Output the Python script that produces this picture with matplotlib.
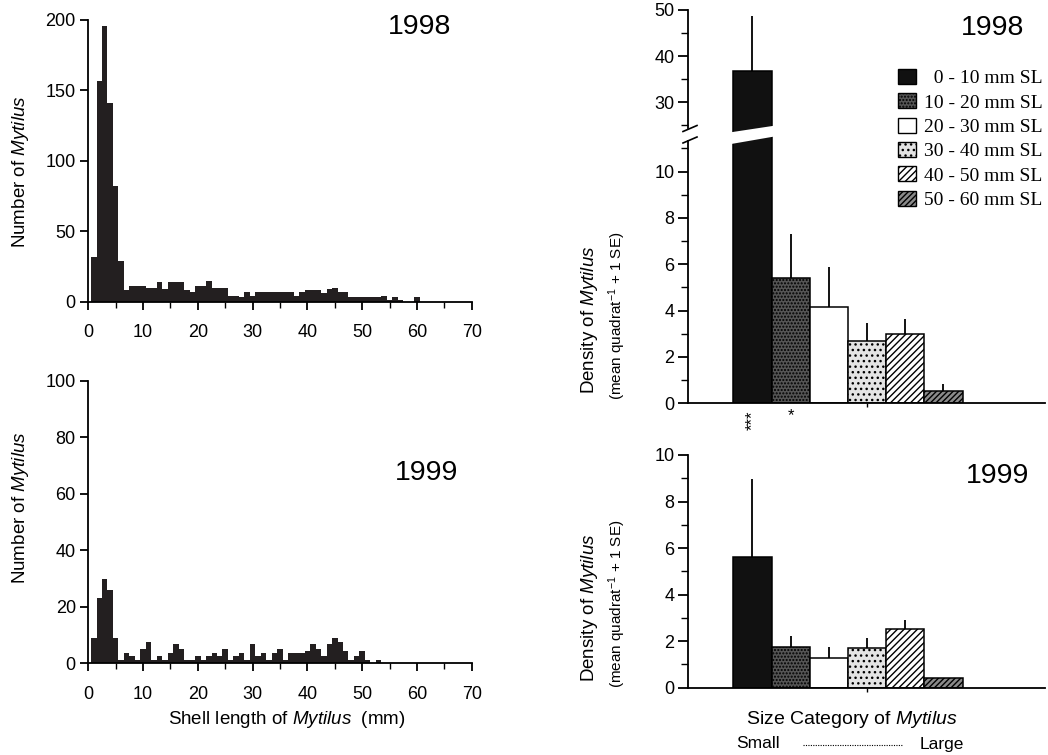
import numpy as np
import matplotlib
matplotlib.use('Agg')
import matplotlib.pyplot as plt
from matplotlib.patches import Patch, Polygon
from matplotlib.lines import Line2D
from matplotlib.ticker import MultipleLocator

plt.rcParams['font.family'] = ['Liberation Sans', 'DejaVu Sans']
plt.rcParams['mathtext.fontset'] = 'custom'
plt.rcParams['mathtext.rm'] = 'Liberation Sans'
plt.rcParams['mathtext.it'] = 'Liberation Sans:italic'
plt.rcParams['mathtext.bf'] = 'Liberation Sans:bold'
plt.rcParams['hatch.linewidth'] = 1.0

# ---------------- data ----------------
# histograms: counts per 1-mm shell-length class (class centres 1, 2, 3 ... mm)
counts_1998 = [32, 157, 196, 141, 82, 29, 8, 11, 11, 11,
               10, 10, 14, 9, 14, 14, 14, 8, 7, 11,
               11, 15, 10, 10, 10, 4, 4, 3, 7, 4,
               7, 7, 7, 7, 7, 7, 7, 4, 7, 8,
               8, 8, 6, 9, 10, 7, 7, 3, 3, 3,
               3, 3, 3, 4, 1, 3, 1, 0, 0, 3]
counts_1999 = [9, 23, 30, 26, 9, 1, 3.5, 2.5, 1, 5,
               7.5, 1, 2.5, 1, 3.5, 7, 5, 1, 1, 2.5,
               1, 2.5, 3.5, 2.5, 5, 1, 2.5, 3.5, 1, 7,
               2.5, 3.5, 1, 3.5, 5, 1, 3.5, 3.5, 3.5, 4.5,
               7, 5, 2.5, 7, 9, 7.5, 4.5, 1, 2.5, 4.5,
               1, 0, 1]

size_classes = ['  0 - 10 mm SL', '10 - 20 mm SL', '20 - 30 mm SL',
                '30 - 40 mm SL', '40 - 50 mm SL', '50 - 60 mm SL']
density_1998 = [36.8, 5.4, 4.15, 2.7, 2.97, 0.55]
se_1998 = [11.9, 1.9, 1.75, 0.75, 0.66, 0.27]
density_1999 = [5.6, 1.76, 1.29, 1.71, 2.54, 0.40]
se_1999 = [3.37, 0.48, 0.47, 0.44, 0.37, 0.0]

hist_xticks = [0, 10, 20, 30, 40, 50, 60, 70]

# bar styles (facecolor, hatch)
styles = [('#111111', None), ('#555555', '.....'), ('white', None),
          ('#e4e4e4', '...'), ('white', '/////'), ('#8a8a8a', '//////')]

# ---------------- figure ----------------
W, H = 1048, 755
fig = plt.figure(figsize=(W / 100, H / 100), dpi=100)


def fx(px):
    return px / W


def fy(py):
    return 1 - py / H


def add_ax(left, top, right, bottom):
    return fig.add_axes([fx(left), fy(bottom), (right - left) / W, (bottom - top) / H])


HCOL = '#231f20'
LW = 1.3
TICKFS = 13


def style_hist(ax, ymax, ystep):
    ax.set_xlim(0, 70)
    ax.set_ylim(0, ymax)
    for s in ['top', 'right']:
        ax.spines[s].set_visible(False)
    for s in ['left', 'bottom']:
        ax.spines[s].set_linewidth(LW)
    ax.set_xticks(hist_xticks)
    ax.xaxis.set_minor_locator(MultipleLocator(5))
    ax.yaxis.set_major_locator(MultipleLocator(ystep))
    ax.tick_params(axis='x', which='major', direction='out', length=6, width=LW,
                   labelsize=TICKFS, pad=10)
    ax.tick_params(axis='x', which='minor', direction='out', length=4, width=1.0)
    ax.tick_params(axis='y', which='major', direction='out', length=6, width=LW,
                   labelsize=TICKFS, pad=3)


edges98 = np.arange(len(counts_1998) + 1) + 0.5
edges99 = np.arange(len(counts_1999) + 1) + 0.5

ax_h98 = add_ax(88.3, 20, 471.7, 301.7)
ax_h98.stairs(counts_1998, edges98, fill=True, color=HCOL)
style_hist(ax_h98, 200, 50)

ax_h99 = add_ax(88.3, 380.7, 471.7, 663.3)
ax_h99.stairs(counts_1999, edges99, fill=True, color=HCOL)
style_hist(ax_h99, 100, 20)

fig.text(fx(419.5), fy(27), '1998', fontsize=20.5, ha='center', va='center')
fig.text(fx(426.7), fy(473), '1999', fontsize=20.5, ha='center', va='center')

fig.text(fx(21), fy(172), r'Number of $\mathit{Mytilus}$', rotation=90,
         fontsize=13.5, ha='center', va='center')
fig.text(fx(21), fy(508), r'Number of $\mathit{Mytilus}$', rotation=90,
         fontsize=13.5, ha='center', va='center')
fig.text(fx(286.5), fy(719), r'Shell length of $\mathit{Mytilus}$  (mm)',
         fontsize=13.5, ha='center', va='center')

# ---------------- bar charts ----------------
positions = np.arange(1, len(size_classes) + 1)
XL = (-0.68, 8.66)


def draw_bars(ax, vals, errs):
    for p, v, (fc, hatch) in zip(positions, vals, styles):
        ax.bar(p, v, width=1.0, facecolor=fc, edgecolor='black', linewidth=1.1,
               hatch=hatch, zorder=2)
    ax.errorbar(positions, vals, yerr=[np.zeros(len(vals)), errs], fmt='none',
                ecolor='black', elinewidth=1.3, capsize=0, zorder=1)
    ax.set_xlim(*XL)


def style_bar_ax(ax):
    for s in ['top', 'right']:
        ax.spines[s].set_visible(False)
    for s in ['left', 'bottom']:
        ax.spines[s].set_linewidth(LW)
    ax.tick_params(axis='y', which='major', direction='out', length=7, width=LW,
                   labelsize=TICKFS, pad=3)
    ax.tick_params(axis='y', which='minor', direction='out', length=5, width=1.0)
    ax.set_xticks([4])
    ax.set_xticklabels([])
    ax.tick_params(axis='x', which='major', direction='out', length=3, width=1.0)


# 1998 upper (broken) segment
top_lo = 50 - (133 - 10) / 4.62
ax98_top = add_ax(688.3, 10, 1045, 133)
draw_bars(ax98_top, density_1998, se_1998)
ax98_top.set_ylim(top_lo, 50)
style_bar_ax(ax98_top)
ax98_top.spines['bottom'].set_visible(False)
ax98_top.spines['left'].set_bounds(24.5, 50)
ax98_top.set_yticks([30, 40, 50])
ax98_top.yaxis.set_minor_locator(MultipleLocator(5))
ax98_top.set_xticks([])

# 1998 lower segment
low_hi = (403.3 - 135) / 23.17
ax98_low = add_ax(688.3, 135, 1045, 403.3)
draw_bars(ax98_low, density_1998, se_1998)
ax98_low.set_ylim(0, low_hi)
style_bar_ax(ax98_low)
ax98_low.spines['left'].set_bounds(0, 11.3)
ax98_low.set_yticks([0, 2, 4, 6, 8, 10])
ax98_low.yaxis.set_minor_locator(MultipleLocator(1))

# white slanted gap through the broken bar
gap = Polygon([(fx(730), fy(132.4)), (fx(775), fy(125.6)), (fx(775), fy(136.4)),
               (fx(730), fy(144.2))], closed=True, facecolor='white',
              edgecolor='none', transform=fig.transFigure, zorder=5)
fig.add_artist(gap)
for (x0, y0, x1, y1) in [(683, 131.5, 697, 125.5), (683, 143, 697, 137)]:
    fig.add_artist(Line2D([fx(x0), fx(x1)], [fy(y0), fy(y1)], color='black',
                          lw=1.2, transform=fig.transFigure, zorder=6))

# significance marks
ax98_low.text(positions[0], -0.3, '***', rotation=90, ha='center', va='top',
              fontsize=12, clip_on=False)
ax98_low.text(positions[1], -0.2, '*', ha='center', va='top', fontsize=12,
              clip_on=False)

# 1999
ax99 = add_ax(688.3, 455, 1045, 687.7)
draw_bars(ax99, density_1999, se_1999)
ax99.set_ylim(0, 10)
style_bar_ax(ax99)
ax99.set_yticks([0, 2, 4, 6, 8, 10])
ax99.yaxis.set_minor_locator(MultipleLocator(1))

fig.text(fx(993), fy(28), '1998', fontsize=20.5, ha='center', va='center')
fig.text(fx(998), fy(476), '1999', fontsize=20.5, ha='center', va='center')

for yc in (320, 608):
    fig.text(fx(590), fy(yc), r'Density of $\mathit{Mytilus}$', rotation=90,
             fontsize=13.5, ha='center', va='center')
    fig.text(fx(617), fy(yc - 4), r'(mean quadrat$^{-1}$ + 1 SE)', rotation=90,
             fontsize=11, ha='center', va='center')

# legend
handles = [Patch(facecolor=fc, edgecolor='black', hatch=h, linewidth=1.0)
           for fc, h in styles]
fig.legend(handles, size_classes, loc='upper left',
           bbox_to_anchor=(fx(898), fy(69)), frameon=False,
           prop={'family': 'Liberation Serif', 'size': 14},
           handlelength=0.92, handleheight=0.82, handletextpad=0.4,
           labelspacing=0.31, borderpad=0, borderaxespad=0)

# bottom labels
fig.text(fx(851.7), fy(720), r'Size Category of $\mathit{Mytilus}$', fontsize=14,
         ha='center', va='center')
fig.text(fx(758), fy(744), 'Small', fontsize=12.5, ha='center', va='center')
fig.text(fx(942), fy(744), 'Large', fontsize=12.5, ha='center', va='center')
fig.add_artist(Line2D([fx(803), fx(902)], [fy(744.5), fy(744.5)], color='black',
                      lw=0.8, linestyle=(0, (1, 1.2)), transform=fig.transFigure))

fig.savefig('out.png', dpi=100)
